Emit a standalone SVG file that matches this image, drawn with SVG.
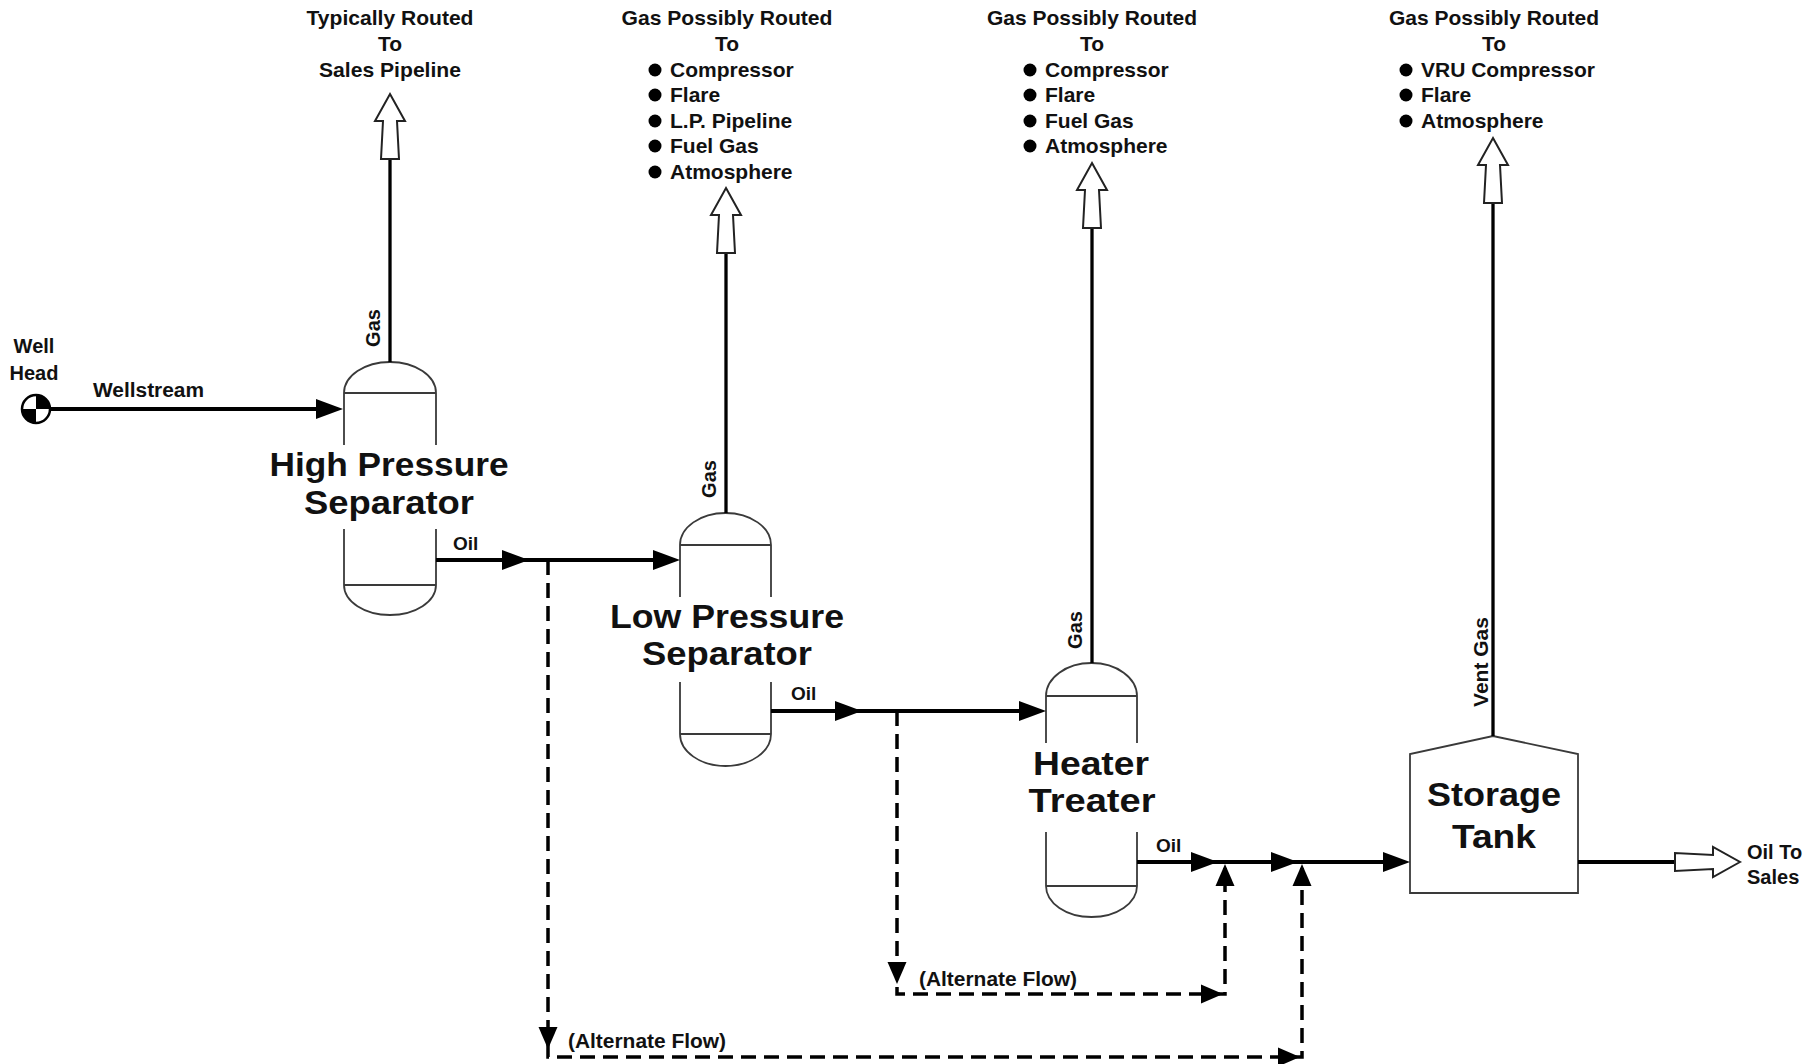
<svg xmlns="http://www.w3.org/2000/svg" xmlns:xlink="http://www.w3.org/1999/xlink" width="1818" height="1064" viewBox="0 0 1818 1064">
  <style>
    .t { font-family: "Liberation Sans", Arial, sans-serif; font-weight: bold; fill: #111; }
    .hdr { font-size: 21px; text-anchor: middle; }
    .item { font-size: 21px; }
    .big { font-size: 34px; text-anchor: middle; }
    .lbl { font-size: 20px; }
    .mid { text-anchor: middle; }
    .vessel { fill: none; stroke: #3a3a3a; stroke-width: 1.8; }
    .flow { fill: none; stroke: #000; stroke-width: 3.8; }
    .stem { fill: none; stroke: #000; stroke-width: 3.3; }
    .dash { fill: none; stroke: #000; stroke-width: 3.5; stroke-dasharray: 15 8; }
    .open { fill: #fff; stroke: #222; stroke-width: 2; stroke-linejoin: miter; }
    .solid { fill: #000; stroke: none; }
    .bullet { fill: #000; }
  </style>
  <defs>
    <path id="openArrow" d="M0,0 L15,27 L7,27 L9,65 L-9,65 L-7,27 L-15,27 Z"/>
    <path id="ah" d="M0,0 L-27,-10 L-27,10 Z"/>
    <path id="ahs" d="M0,0 L-22,-9.5 L-22,9.5 Z"/>
  </defs>
  <rect width="1818" height="1064" fill="#fff"/>

  <!-- Destination labels -->
  <g id="dest-hp">
    <text class="t hdr" x="390" y="25" textLength="167" lengthAdjust="spacingAndGlyphs">Typically Routed</text>
    <text class="t hdr" x="390" y="51">To</text>
    <text class="t hdr" x="390" y="77" textLength="142" lengthAdjust="spacingAndGlyphs">Sales Pipeline</text>
  </g>
  <g id="dest-lp">
    <text class="t hdr" x="727" y="25" textLength="211" lengthAdjust="spacingAndGlyphs">Gas Possibly Routed</text>
    <text class="t hdr" x="727" y="51">To</text>
    <circle class="bullet" cx="655" cy="70" r="6.5"/>
    <circle class="bullet" cx="655" cy="95" r="6.5"/>
    <circle class="bullet" cx="655" cy="121" r="6.5"/>
    <circle class="bullet" cx="655" cy="146" r="6.5"/>
    <circle class="bullet" cx="655" cy="172" r="6.5"/>
    <text class="t item" x="670" y="77">Compressor</text>
    <text class="t item" x="670" y="102">Flare</text>
    <text class="t item" x="670" y="128">L.P. Pipeline</text>
    <text class="t item" x="670" y="153">Fuel Gas</text>
    <text class="t item" x="670" y="179">Atmosphere</text>
  </g>
  <g id="dest-ht">
    <text class="t hdr" x="1092" y="25" textLength="210" lengthAdjust="spacingAndGlyphs">Gas Possibly Routed</text>
    <text class="t hdr" x="1092" y="51">To</text>
    <circle class="bullet" cx="1030" cy="70" r="6.5"/>
    <circle class="bullet" cx="1030" cy="95" r="6.5"/>
    <circle class="bullet" cx="1030" cy="121" r="6.5"/>
    <circle class="bullet" cx="1030" cy="146" r="6.5"/>
    <text class="t item" x="1045" y="77">Compressor</text>
    <text class="t item" x="1045" y="102">Flare</text>
    <text class="t item" x="1045" y="128">Fuel Gas</text>
    <text class="t item" x="1045" y="153">Atmosphere</text>
  </g>
  <g id="dest-tank">
    <text class="t hdr" x="1494" y="25" textLength="210" lengthAdjust="spacingAndGlyphs">Gas Possibly Routed</text>
    <text class="t hdr" x="1494" y="51">To</text>
    <circle class="bullet" cx="1406" cy="70" r="6.5"/>
    <circle class="bullet" cx="1406" cy="95" r="6.5"/>
    <circle class="bullet" cx="1406" cy="121" r="6.5"/>
    <text class="t item" x="1421" y="77">VRU Compressor</text>
    <text class="t item" x="1421" y="102">Flare</text>
    <text class="t item" x="1421" y="128">Atmosphere</text>
  </g>

  <!-- Well head -->
  <g id="wellhead">
    <circle cx="36" cy="409" r="14" fill="#fff" stroke="#000" stroke-width="2.5"/>
    <path d="M36,409 L36,395 A14,14 0 0 1 50,409 Z" fill="#000"/>
    <path d="M36,409 L36,423 A14,14 0 0 1 22,409 Z" fill="#000"/>
    <text class="t lbl mid" x="34" y="353">Well</text>
    <text class="t lbl mid" x="34" y="380">Head</text>
  </g>

  <!-- High pressure separator -->
  <g id="hp-separator">
    <path class="vessel" d="M344,393 A46,31 0 0 1 436,393 M344,393 L436,393 M344,393 L344,445 M436,393 L436,445 M344,529 L344,585 M436,529 L436,585 M344,585 L436,585 M344,585 A46,30 0 0 0 436,585"/>
    <text class="t big" x="389" y="476" textLength="239" lengthAdjust="spacingAndGlyphs">High Pressure</text>
    <text class="t big" x="389" y="514" textLength="170" lengthAdjust="spacingAndGlyphs">Separator</text>
  </g>

  <!-- Low pressure separator -->
  <g id="lp-separator">
    <path class="vessel" d="M680,545 A45.5,32 0 0 1 771,545 M680,545 L771,545 M680,545 L680,597 M771,545 L771,597 M680,682 L680,734 M771,682 L771,734 M680,734 L771,734 M680,734 A45.5,32 0 0 0 771,734"/>
    <text class="t big" x="727" y="628" textLength="234" lengthAdjust="spacingAndGlyphs">Low Pressure</text>
    <text class="t big" x="727" y="665" textLength="170" lengthAdjust="spacingAndGlyphs">Separator</text>
  </g>

  <!-- Heater treater -->
  <g id="heater-treater">
    <path class="vessel" d="M1046,696 A45.5,33 0 0 1 1137,696 M1046,696 L1137,696 M1046,696 L1046,743 M1137,696 L1137,743 M1046,832 L1046,886 M1137,832 L1137,886 M1046,886 L1137,886 M1046,886 A45.5,31 0 0 0 1137,886"/>
    <text class="t big" x="1091" y="775" textLength="116" lengthAdjust="spacingAndGlyphs">Heater</text>
    <text class="t big" x="1092" y="812" textLength="127" lengthAdjust="spacingAndGlyphs">Treater</text>
  </g>

  <!-- Storage tank -->
  <g id="storage-tank">
    <path class="vessel" d="M1410,893 L1410,754 L1493,736 L1578,754 L1578,893 Z"/>
    <text class="t big" x="1494" y="806" textLength="134" lengthAdjust="spacingAndGlyphs">Storage</text>
    <text class="t big" x="1494" y="848" textLength="84" lengthAdjust="spacingAndGlyphs">Tank</text>
  </g>

  <!-- Oil to sales label -->
  <g id="oil-to-sales">
    <text class="t lbl" x="1747" y="859">Oil To</text>
    <text class="t lbl" x="1747" y="884">Sales</text>
  </g>

  <!-- Connectors -->
  <g id="connectors">
    <!-- gas stems -->
    <line class="stem" x1="390" y1="159" x2="390" y2="362"/>
    <line class="stem" x1="726" y1="253" x2="726" y2="513"/>
    <line class="stem" x1="1092" y1="228" x2="1092" y2="663"/>
    <line class="stem" x1="1493" y1="202" x2="1493" y2="736"/>
    <use href="#openArrow" class="open" transform="translate(390,94)"/>
    <use href="#openArrow" class="open" transform="translate(726,188)"/>
    <use href="#openArrow" class="open" transform="translate(1092,163)"/>
    <use href="#openArrow" class="open" transform="translate(1493,138)"/>
    <text class="t lbl mid" transform="translate(380,328) rotate(-90)">Gas</text>
    <text class="t lbl mid" transform="translate(716,479) rotate(-90)">Gas</text>
    <text class="t lbl mid" transform="translate(1082,630) rotate(-90)">Gas</text>
    <text class="t mid" style="font-size:21px" transform="translate(1488,662) rotate(-90)">Vent Gas</text>

    <!-- main oil flow -->
    <line class="flow" x1="50" y1="409" x2="330" y2="409"/>
    <use href="#ah" class="solid" transform="translate(343,409)"/>
    <text class="t lbl" x="93" y="397" textLength="111" lengthAdjust="spacingAndGlyphs">Wellstream</text>

    <line class="flow" x1="436" y1="560" x2="670" y2="560"/>
    <use href="#ah" class="solid" transform="translate(529,560)"/>
    <use href="#ah" class="solid" transform="translate(680,560)"/>
    <text class="t" style="font-size:19px" x="453" y="550">Oil</text>

    <line class="flow" x1="771" y1="711" x2="1036" y2="711"/>
    <use href="#ah" class="solid" transform="translate(862,711)"/>
    <use href="#ah" class="solid" transform="translate(1046,711)"/>
    <text class="t" style="font-size:19px" x="791" y="700">Oil</text>

    <line class="flow" x1="1137" y1="862" x2="1400" y2="862"/>
    <use href="#ah" class="solid" transform="translate(1218,862)"/>
    <use href="#ah" class="solid" transform="translate(1298,862)"/>
    <use href="#ah" class="solid" transform="translate(1410,862)"/>
    <text class="t" style="font-size:19px" x="1156" y="852">Oil</text>

    <line class="flow" x1="1578" y1="862" x2="1676" y2="862"/>
    <use href="#openArrow" class="open" transform="translate(1740,862) rotate(90)"/>

    <!-- alternate flows -->
    <path class="dash" d="M548,560 L548,1057 L1302,1057 L1302,868"/>
    <use href="#ahs" class="solid" transform="translate(548,1049) rotate(90)"/>
    <use href="#ahs" class="solid" transform="translate(1300,1057)"/>
    <use href="#ahs" class="solid" transform="translate(1302,864) rotate(-90)"/>
    <text class="t lbl" x="568" y="1048" textLength="158" lengthAdjust="spacingAndGlyphs">(Alternate Flow)</text>

    <path class="dash" d="M897,711 L897,994 L1225,994 L1225,868"/>
    <use href="#ahs" class="solid" transform="translate(897,984) rotate(90)"/>
    <use href="#ahs" class="solid" transform="translate(1223,994)"/>
    <use href="#ahs" class="solid" transform="translate(1225,864) rotate(-90)"/>
    <text class="t lbl" x="919" y="986" textLength="158" lengthAdjust="spacingAndGlyphs">(Alternate Flow)</text>
  </g>
</svg>
